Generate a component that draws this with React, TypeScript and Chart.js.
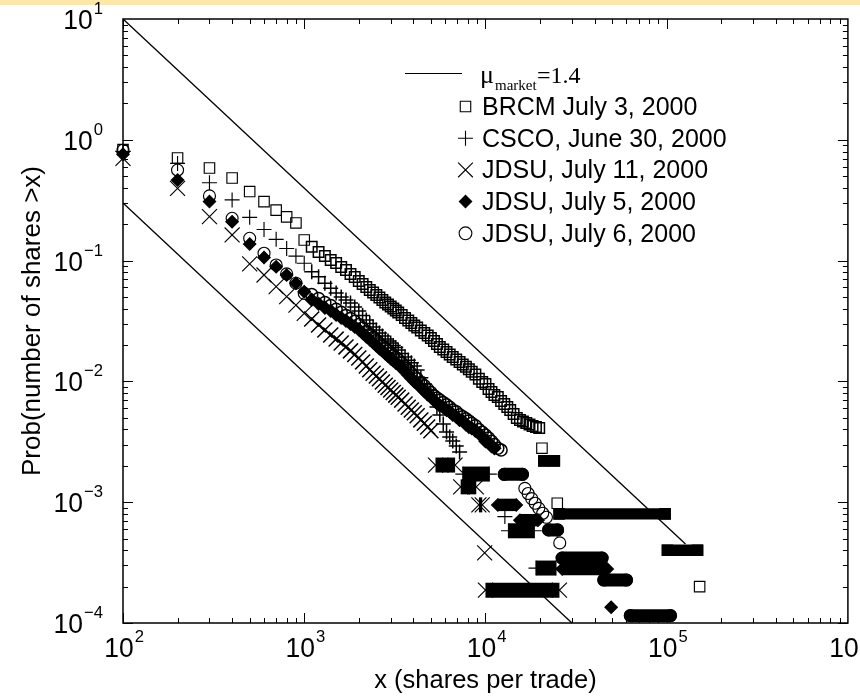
import React, { useEffect, useRef } from "react";
import { Chart, registerables } from "chart.js";

Chart.register(...registerables);

// ---------------- data ----------------
const xTickExps = [2, 3, 4, 5, 6];
const yTickExps = [1, 0, -1, -2, -3, -4];

// reference power-law lines (mu_market = 1.4)
const upperLineX = [100, 127000];
const upperLineY = [10, 0.00045];
const lowerLineX = [100, 30000];
const lowerLineY = [0.3, 0.0001];

// trade sizes where each curve is sampled (shares)
const headX = [100, 200, 300, 400, 500, 600, 700, 800, 900, 1000];
const bandX = [1100, 1200, 1300, 1400, 1500, 1600, 1700, 1800, 1900, 2000, 2100, 2200, 2300, 2400, 2500, 2600, 2700, 2800, 2900, 3000, 3100, 3200, 3300, 3450, 3600, 3750, 3900, 4050, 4200, 4400, 4600, 4800, 5000, 5200, 5400, 5600, 5850, 6100, 6350, 6600, 6900, 7200, 7500, 7800, 8100, 8400, 8800, 9200, 9600, 10000, 10400, 10800, 11200, 11700, 12200, 12700, 13200, 13700, 14300, 14900, 15500, 16100, 16800, 17500, 18200, 19000, 19800];

// BRCM July 3, 2000 (squares)
const brcmHeadY = [0.83, 0.707, 0.584, 0.483, 0.373, 0.308, 0.262, 0.23, 0.205, 0.148];
const brcmBandY = [0.13, 0.118, 0.109, 0.101, 0.0955, 0.0885, 0.0836, 0.0774, 0.0731, 0.0678, 0.064, 0.0604, 0.0571, 0.0544, 0.0519, 0.0495, 0.0472, 0.045, 0.0433, 0.0417, 0.0401, 0.0386, 0.0372, 0.0355, 0.0335, 0.0319, 0.0304, 0.029, 0.0279, 0.0264, 0.0252, 0.024, 0.0229, 0.0216, 0.0204, 0.0193, 0.0184, 0.0175, 0.0167, 0.0159, 0.0152, 0.0145, 0.0138, 0.0132, 0.0126, 0.012, 0.0114, 0.0105, 0.0099, 0.0095, 0.00865, 0.00817, 0.00772, 0.00743, 0.00689, 0.0065, 0.00614, 0.0058, 0.00537, 0.00498, 0.00479, 0.00465, 0.00453, 0.0044, 0.00428, 0.0042, 0.00411];
const brcmTailX = [20500, 24900, 152000];
const brcmTailY = [0.0028, 0.00098, 0.0002];
const brcmRuns = [[21000, 24000, 0.0022], [25500, 98000, 0.0008], [101000, 148000, 0.0004]];

// CSCO, June 30, 2000 (plus)
const cscoHeadY = [0.8, 0.638, 0.441, 0.318, 0.228, 0.181, 0.15, 0.126, 0.109, 0.095];
const cscoBandY = [0.081, 0.0736, 0.0649, 0.059, 0.054, 0.05, 0.0472, 0.0446, 0.0413, 0.0383, 0.0351, 0.0322, 0.0301, 0.0282, 0.0266, 0.0252, 0.0238, 0.0224, 0.0216, 0.0208, 0.0198, 0.0191, 0.0182, 0.017, 0.0159, 0.015, 0.0143, 0.0134, 0.0124, 0.0107, 0.0095, 0.0085, 0.0077, 0.007, 0.00614, 0.00527, 0.00444, 0.00381, 0.00347, 0.00321, 0.00292, 0.0026];
const cscoTailX = [12800];
const cscoTailY = [0.00076];
const cscoRuns = [[7500, 10500, 0.00171], [13400, 18600, 0.00058], [19000, 24500, 0.000285]];

// JDSU, July 11, 2000 (x)
const jdsu11HeadY = [0.703, 0.396, 0.231, 0.163, 0.0938, 0.076, 0.0608, 0.0503, 0.0428, 0.0366];
const jdsu11BandY = [0.0329, 0.0293, 0.0266, 0.0242, 0.0224, 0.0208, 0.0193, 0.0179, 0.0167, 0.0156, 0.0145, 0.0134, 0.0125, 0.0117, 0.0111, 0.0105, 0.0099, 0.0093, 0.0089, 0.0085, 0.0081, 0.0077, 0.0074, 0.007, 0.0065, 0.0061, 0.0058, 0.0055, 0.0052, 0.0048, 0.0045, 0.0042, 0.0039];
const jdsu11TailX = [9900];
const jdsu11TailY = [0.00038];
const jdsu11Runs = [[5300, 6800, 0.00203], [7300, 8900, 0.00134], [9200, 9600, 0.00095], [10000, 25600, 0.000187]];

// JDSU, July 5, 2000 (filled diamonds)
const jdsu5HeadY = [0.759, 0.464, 0.308, 0.21, 0.137, 0.106, 0.089, 0.076, 0.065, 0.0553];
const jdsu5BandY = [0.0475, 0.044, 0.0408, 0.0385, 0.0357, 0.0337, 0.0318, 0.03, 0.0284, 0.0269, 0.0252, 0.0235, 0.0222, 0.021, 0.0198, 0.0187, 0.0179, 0.017, 0.0162, 0.0155, 0.0149, 0.0143, 0.0138, 0.0129, 0.0121, 0.0113, 0.0106, 0.01, 0.0095, 0.0089, 0.0083, 0.0078, 0.0074, 0.007, 0.0066, 0.0063, 0.0061, 0.0058, 0.0056, 0.0053, 0.0051, 0.0048, 0.0047, 0.0044, 0.0042, 0.0041, 0.0039, 0.0037, 0.0035, 0.0032, 0.0031, 0.0029, 0.0028];
const jdsu5TailX = [49400];
const jdsu5TailY = [0.000135];
const jdsu5Runs = [[11700, 14800, 0.00095], [15500, 19500, 0.00071], [26500, 47000, 0.00028]];

// JDSU, July 6, 2000 (open circles)
const jdsu6HeadY = [0.82, 0.562, 0.343, 0.224, 0.153, 0.115, 0.092, 0.0777, 0.065, 0.0536];
const jdsu6BandY = [0.0525, 0.0486, 0.045, 0.0425, 0.0395, 0.0373, 0.0352, 0.0332, 0.0314, 0.0296, 0.0277, 0.0259, 0.0245, 0.0231, 0.0218, 0.0206, 0.0196, 0.0187, 0.0179, 0.017, 0.0164, 0.0158, 0.0152, 0.0142, 0.0133, 0.0124, 0.0116, 0.011, 0.0105, 0.0098, 0.0092, 0.0086, 0.0081, 0.0076, 0.0073, 0.007, 0.0067, 0.0064, 0.0061, 0.0058, 0.0056, 0.0053, 0.0051, 0.0049, 0.0047, 0.0045, 0.0043, 0.004, 0.0038, 0.0036, 0.0034, 0.0032, 0.003, 0.0028, 0.0027];
const jdsu6TailX = [16500, 17200, 18000, 18800, 19700, 20700, 21700, 25700];
const jdsu6TailY = [0.0013, 0.00118, 0.00107, 0.00098, 0.00089, 0.00081, 0.00075, 0.00046];
const jdsu6Runs = [[12700, 16000, 0.0017], [22300, 25000, 0.00059], [26500, 44000, 0.000345], [45000, 60000, 0.000227], [63000, 105000, 0.000115]];

const seriesLabels = [
  "BRCM July 3, 2000",
  "CSCO, June 30, 2000",
  "JDSU, July 11, 2000",
  "JDSU, July 5, 2000",
  "JDSU, July 6, 2000",
];
const lineSymbol = "\u03bc";
const lineLabel = "market";
const lineValue = "=1.4";

// ---------------- styling ----------------
const W = 860;
const H = 698;
const PAD = { left: 123, right: 11, top: 19, bottom: 75 };
const SANS = '"Liberation Sans", Arial, Helvetica, sans-serif';
const SERIF = '"Liberation Serif", "Times New Roman", serif';

type Marker = "rect" | "cross" | "crossRot" | "rectRot" | "circle";
const markerStyles: Marker[] = ["rect", "cross", "crossRot", "rectRot", "circle"];
const markerRadius = [7.4, 7.5, 10.6, 6.2, 6];
const markerFill = ["rgba(0,0,0,0)", "rgba(0,0,0,0)", "rgba(0,0,0,0)", "#000", "rgba(0,0,0,0)"];
const runThickness = [11.4, 15, 15, 12.4, 13];
const runCap: CanvasLineCap[] = ["square", "butt", "butt", "butt", "round"];

function pts(xs: number[], ys: number[]) {
  return ys.map((y, i) => ({ x: xs[i], y }));
}

function drawMarker(ctx: CanvasRenderingContext2D, style: Marker, x: number, y: number, r: number, fill: string) {
  ctx.beginPath();
  if (style === "rect") {
    const s = Math.SQRT1_2 * r;
    ctx.rect(x - s, y - s, 2 * s, 2 * s);
  } else if (style === "circle") {
    ctx.arc(x, y, r, 0, Math.PI * 2);
  } else if (style === "rectRot") {
    ctx.moveTo(x - r, y);
    ctx.lineTo(x, y - r);
    ctx.lineTo(x + r, y);
    ctx.lineTo(x, y + r);
    ctx.closePath();
  } else if (style === "cross") {
    ctx.moveTo(x - r, y);
    ctx.lineTo(x + r, y);
    ctx.moveTo(x, y - r);
    ctx.lineTo(x, y + r);
  } else {
    const o = Math.SQRT1_2 * r;
    ctx.moveTo(x - o, y - o);
    ctx.lineTo(x + o, y + o);
    ctx.moveTo(x - o, y + o);
    ctx.lineTo(x + o, y - o);
  }
  if (fill !== "rgba(0,0,0,0)") {
    ctx.fillStyle = fill;
    ctx.fill();
  }
  ctx.stroke();
}

function txt(ctx: CanvasRenderingContext2D, s: string, x: number, y: number, font: string, align: CanvasTextAlign = "left", sx = 1) {
  ctx.save();
  ctx.font = font;
  ctx.textAlign = align;
  ctx.textBaseline = "alphabetic";
  ctx.fillStyle = "#000";
  ctx.translate(x, y);
  ctx.scale(sx, 1);
  ctx.fillText(s, 0, 0);
  ctx.restore();
}

function measure(ctx: CanvasRenderingContext2D, s: string, font: string, sx = 1) {
  ctx.save();
  ctx.font = font;
  const w = ctx.measureText(s).width * sx;
  ctx.restore();
  return w;
}

const decorPlugin = {
  id: "decor",
  beforeDraw(chart: any) {
    const ctx: CanvasRenderingContext2D = chart.ctx;
    ctx.save();
    ctx.fillStyle = "#ffffff";
    ctx.fillRect(0, 0, W, H);
    ctx.fillStyle = "#fde7a6";
    ctx.fillRect(0, 0, W, 5);
    ctx.restore();
  },
  afterDraw(chart: any) {
    const ctx: CanvasRenderingContext2D = chart.ctx;
    const xs = chart.scales.x;
    const ys = chart.scales.y;
    const a = chart.chartArea;
    ctx.save();
    ctx.strokeStyle = "#000";
    ctx.fillStyle = "#000";
    ctx.lineWidth = 1.5;
    ctx.strokeRect(a.left, a.top, a.right - a.left, a.bottom - a.top);
    ctx.lineWidth = 1;
    const majorLen = 10;
    const minorLen = 5;
    for (let e = xTickExps[0]; e < xTickExps[xTickExps.length - 1]; e++) {
      for (let m = 1; m <= 9; m++) {
        const px = Math.round(xs.getPixelForValue(m * Math.pow(10, e))) + 0.5;
        const len = m === 1 ? majorLen : minorLen;
        ctx.beginPath();
        ctx.moveTo(px, a.bottom);
        ctx.lineTo(px, a.bottom - len);
        ctx.moveTo(px, a.top);
        ctx.lineTo(px, a.top + len);
        ctx.stroke();
      }
    }
    for (let e = yTickExps[yTickExps.length - 1]; e < yTickExps[0]; e++) {
      for (let m = 1; m <= 9; m++) {
        const py = Math.round(ys.getPixelForValue(m * Math.pow(10, e))) + 0.5;
        const len = m === 1 ? majorLen : minorLen;
        ctx.beginPath();
        ctx.moveTo(a.left, py);
        ctx.lineTo(a.left + len, py);
        ctx.moveTo(a.right, py);
        ctx.lineTo(a.right - len, py);
        ctx.stroke();
      }
    }
    const mainFont = `27px ${SANS}`;
    const supFont = `17px ${SANS}`;
    const sx = 0.98;
    for (const e of xTickExps) {
      const px = xs.getPixelForValue(Math.pow(10, e));
      const w10 = measure(ctx, "10", mainFont, sx);
      const sup = e < 0 ? "\u2212" + -e : String(e);
      const left = px - w10 / 2 - 4;
      txt(ctx, "10", left, 657, mainFont, "left", sx);
      txt(ctx, sup, left + w10 + 1, 642, supFont, "left", sx);
    }
    for (const e of yTickExps) {
      const py = ys.getPixelForValue(Math.pow(10, e));
      const sup = e < 0 ? "\u2212" + -e : String(e);
      const wsup = measure(ctx, sup, supFont, sx);
      const w10 = measure(ctx, "10", mainFont, sx);
      const right = 103;
      txt(ctx, "10", right - wsup - 1 - w10, py + 10, mainFont, "left", sx);
      txt(ctx, sup, right - wsup, py - 5, supFont, "left", sx);
    }
    txt(ctx, "x (shares per trade)", (a.left + a.right) / 2, 688, `26px ${SANS}`, "center", 0.98);
    ctx.save();
    ctx.translate(40, (a.top + a.bottom) / 2);
    ctx.rotate(-Math.PI / 2);
    txt(ctx, "Prob(number of shares >x)", 0, 0, `26px ${SANS}`, "center", 1);
    ctx.restore();

    // legend
    ctx.lineWidth = 1.2;
    ctx.beginPath();
    ctx.moveTo(405, 73.5);
    ctx.lineTo(462, 73.5);
    ctx.stroke();
    txt(ctx, lineSymbol, 480, 83, `26px ${SERIF}`);
    txt(ctx, lineLabel, 495, 90, `15px ${SERIF}`);
    txt(ctx, lineValue, 537, 83, `24px ${SERIF}`);
    ctx.lineWidth = 1.1;
    const legFont = `25px ${SANS}`;
    const legR = [7.4, 7.5, 10.4, 6.2, 6.4];
    for (let i = 0; i < seriesLabels.length; i++) {
      const base = 115 + i * 31.7;
      drawMarker(ctx, markerStyles[i], 465.5, base - 8.5, legR[i], markerFill[i]);
      txt(ctx, seriesLabels[i], 482, base, legFont);
    }
    ctx.restore();
  },
};

export default function App() {
  const ref = useRef<HTMLCanvasElement | null>(null);
  useEffect(() => {
    if (!ref.current) return;
    const heads = [brcmHeadY, cscoHeadY, jdsu11HeadY, jdsu5HeadY, jdsu6HeadY];
    const bands = [brcmBandY, cscoBandY, jdsu11BandY, jdsu5BandY, jdsu6BandY];
    const tailsX = [brcmTailX, cscoTailX, jdsu11TailX, jdsu5TailX, jdsu6TailX];
    const tailsY = [brcmTailY, cscoTailY, jdsu11TailY, jdsu5TailY, jdsu6TailY];
    const runs = [brcmRuns, cscoRuns, jdsu11Runs, jdsu5Runs, jdsu6Runs];
    const datasets: any[] = [];
    const pointStyleFor = (i: number, bw: number) => ({
      pointStyle: markerStyles[i],
      pointRadius: markerRadius[i],
      pointBorderWidth: bw,
      pointBorderColor: "#000",
      pointBackgroundColor: markerFill[i],
      clip: false,
    });
    for (let i = 0; i < 5; i++) {
      datasets.push({
        label: seriesLabels[i],
        data: [...pts(headX, heads[i]), ...pts(tailsX[i], tailsY[i])],
        showLine: false,
        borderColor: "#000",
        backgroundColor: markerFill[i],
        ...pointStyleFor(i, 1.15),
      });
      datasets.push({
        label: seriesLabels[i] + " band",
        data: pts(bandX, bands[i]),
        showLine: false,
        borderColor: "#000",
        backgroundColor: markerFill[i],
        ...pointStyleFor(i, 1.5),
      });
      for (const [x0, x1, y] of runs[i]) {
        datasets.push({
          label: seriesLabels[i] + " run",
          data: [{ x: x0, y }, { x: x1, y }],
          showLine: true,
          borderColor: "#000",
          borderWidth: runThickness[i],
          borderCapStyle: runCap[i],
          backgroundColor: markerFill[i],
          ...pointStyleFor(i, 1.15),
        });
      }
    }
    for (const [lx, ly] of [[upperLineX, upperLineY], [lowerLineX, lowerLineY]]) {
      datasets.push({
        label: "mu line",
        data: pts(lx, ly),
        showLine: true,
        pointRadius: 0,
        borderColor: "#000",
        borderWidth: 1.3,
        clip: false,
      });
    }
    const chart = new Chart(ref.current, {
      type: "scatter",
      data: { datasets },
      plugins: [decorPlugin],
      options: {
        responsive: false,
        devicePixelRatio: 1,
        animation: false,
        events: [],
        layout: { padding: PAD },
        plugins: { legend: { display: false }, tooltip: { enabled: false } },
        scales: {
          x: { type: "logarithmic", min: 100, max: 1000000, display: false },
          y: { type: "logarithmic", min: 0.0001, max: 10, display: false },
        },
      },
    });
    return () => chart.destroy();
  }, []);
  return (
    <div style={{ position: "absolute", left: 0, top: 0, width: W, height: H, background: "#fff" }}>
      <canvas ref={ref} width={W} height={H} style={{ display: "block", width: W, height: H }} />
    </div>
  );
}
